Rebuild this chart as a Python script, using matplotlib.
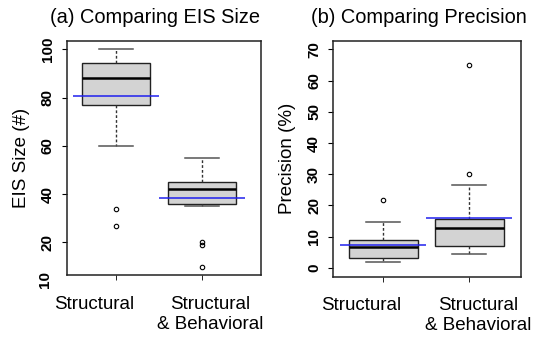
import matplotlib
matplotlib.use('Agg')
import matplotlib.pyplot as plt

plt.rcParams['font.family'] = ['Liberation Sans', 'DejaVu Sans']

groups = ['Structural', 'Structural\n& Behavioral']

# (a) EIS size
eis_whislo = [60, 35]
eis_q1 = [77, 36]
eis_med = [88, 42]
eis_q3 = [94.5, 45]
eis_whishi = [100, 55]
eis_fliers = [[34, 27], [20, 19, 10]]
eis_mean = [80.6, 38.3]

# (b) precision
prec_whislo = [1.9, 4.4]
prec_q1 = [3.2, 6.9]
prec_med = [6.8, 12.7]
prec_q3 = [8.8, 15.6]
prec_whishi = [14.7, 26.4]
prec_fliers = [[21.7], [30, 65]]
prec_mean = [7.2, 16.1]


def make_stats(lo, q1, med, q3, hi, fl):
    return [dict(whislo=lo[i], q1=q1[i], med=med[i], q3=q3[i], whishi=hi[i], fliers=fl[i])
            for i in range(len(lo))]


def draw(ax, stats, means, label_pos):
    ax.bxp(stats, positions=[1, 2], widths=0.8, patch_artist=True, showfliers=True,
           boxprops=dict(facecolor='#d3d3d3', edgecolor='#222222', lw=1.0),
           medianprops=dict(color='black', lw=1.8),
           whiskerprops=dict(color='#333333', lw=1, ls=(0, (2, 1.5))),
           capprops=dict(color='#555555', lw=1.1),
           capwidths=0.4,
           flierprops=dict(marker='o', ms=3.2, mfc='none', mec='black', mew=0.8))
    for i, m in enumerate(means):
        ax.hlines(m, i + 1 - 0.5, i + 1 + 0.5, color='#2020ee', lw=1.1, zorder=5)
    # tick marks at the boxes, labels a bit off like in R output
    ax.set_xticks([1, 2], minor=True)
    ax.set_xticks(label_pos, groups)
    ax.tick_params(axis='x', which='minor', direction='out', length=3.6)
    ax.tick_params(axis='x', which='major', length=0, labelsize=13.5, pad=15)
    ax.tick_params(axis='y', direction='out', length=3.6, labelsize=11, pad=5)
    for s in ax.spines.values():
        s.set_linewidth(1.1)
        s.set_color('#222222')


def rot_yticks(ax):
    for t in ax.get_yticklabels():
        t.set_rotation(90)
        t.set_va('center')
        t.set_fontweight('bold')


fig = plt.figure(figsize=(5.33, 3.39), dpi=100)

ax1 = fig.add_axes([0.125, 0.188, 0.365, 0.692])
draw(ax1, make_stats(eis_whislo, eis_q1, eis_med, eis_q3, eis_whishi, eis_fliers), eis_mean,
     [0.75, 2.093])
ax1.set_xlim(0.425, 2.687)
ax1.set_ylim(6.4, 103.6)
ax1.set_yticks([20, 40, 60, 80, 100])
rot_yticks(ax1)
ax1.text(-0.113, 4.6, '10', transform=ax1.get_yaxis_transform(), rotation=90,
         ha='center', va='center', fontsize=11, fontweight='bold', clip_on=False)
ax1.set_ylabel('EIS Size (#)', fontsize=13.5, labelpad=8)
ax1.set_title('(a) Comparing EIS Size', fontsize=14.4, pad=13, x=0.454)

ax2 = fig.add_axes([0.625, 0.184, 0.352, 0.696])
draw(ax2, make_stats(prec_whislo, prec_q1, prec_med, prec_q3, prec_whishi, prec_fliers), prec_mean,
     [0.749, 2.105])
ax2.set_xlim(0.418, 2.598)
ax2.set_ylim(-2.8, 72.8)
ax2.set_yticks(range(0, 71, 10))
rot_yticks(ax2)
ax2.set_ylabel('Precision (%)', fontsize=13.5, labelpad=8)
ax2.set_title('(b) Comparing Precision', fontsize=14.4, pad=13, x=0.457)

fig.savefig('out.png', dpi=100)
